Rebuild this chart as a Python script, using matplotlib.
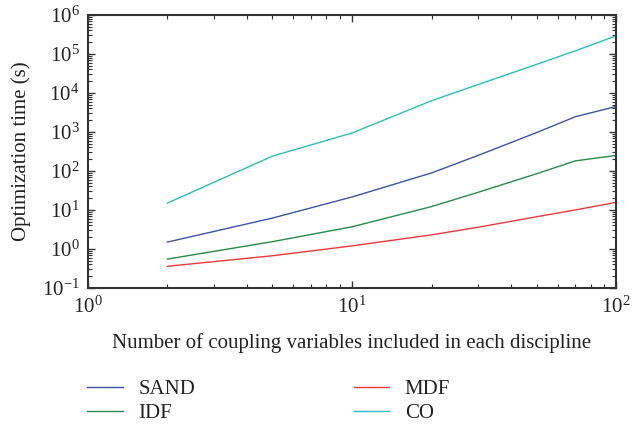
import matplotlib
matplotlib.use("Agg")
import matplotlib.pyplot as plt
from matplotlib.ticker import LogLocator, LogFormatterMathtext, NullFormatter

plt.rcParams['font.family'] = ['Liberation Serif', 'DejaVu Serif']
plt.rcParams['mathtext.fontset'] = 'stix'

n_coupling = [2, 5, 10, 20, 30, 50, 70, 100]
sand = [1.5, 6.2, 21.5, 89, 250, 965, 2450, 4500]
idf = [0.55, 1.54, 3.7, 12.2, 28.3, 85, 181, 250]
mdf = [0.36, 0.67, 1.2, 2.3, 3.6, 6.7, 10, 15.7]
co = [15, 240, 940, 6300, 16400, 54000, 120000, 290000]

series = [("SAND", sand, "#3a55a4"), ("IDF", idf, "#2a8a4a"),
          ("MDF", mdf, "#e83a3a"), ("CO", co, "#2cbcbc")]

fig = plt.figure(figsize=(6.32, 4.26), dpi=100)
ax = fig.add_axes([0.139, 0.324, 0.836, 0.641])

handles = {}
for name, vals, col in series:
    h, = ax.plot(n_coupling, vals, color=col, lw=1.0)
    handles[name] = h

ax.set_xscale('log')
ax.set_yscale('log')
ax.set_xlim(1, 100)
ax.set_ylim(0.1, 1e6)

ax.xaxis.set_major_locator(LogLocator(base=10, numticks=10))
ax.yaxis.set_major_locator(LogLocator(base=10, numticks=10))
ax.xaxis.set_minor_locator(LogLocator(base=10, subs=range(2, 10), numticks=20))
ax.yaxis.set_minor_locator(LogLocator(base=10, subs=range(2, 10), numticks=20))
ax.xaxis.set_major_formatter(LogFormatterMathtext())
ax.yaxis.set_major_formatter(LogFormatterMathtext())
ax.xaxis.set_minor_formatter(NullFormatter())
ax.yaxis.set_minor_formatter(NullFormatter())

ax.tick_params(which='both', direction='in', top=True, right=True, colors='#333333',
               labelcolor='#222222', labelsize=15)
ax.tick_params(which='major', length=5, width=1.0)
ax.tick_params(which='minor', length=3, width=0.8)
ax.tick_params(axis='x', which='major', pad=6)
ax.tick_params(axis='y', which='major', pad=6)
for s in ax.spines.values():
    s.set_color('#333333')
    s.set_linewidth(1.5)

ax.set_xlabel("Number of coupling variables included in each discipline", fontsize=15,
              color='#222222', labelpad=11)
ax.set_ylabel("Optimization time (s)", fontsize=15, color='#222222', labelpad=8)

order = ["SAND", "IDF", "MDF", "CO"]
leg = fig.legend([handles[k] for k in order], order, loc='upper left',
                 bbox_to_anchor=(0.125, 0.128), ncol=2, frameon=False,
                 fontsize=15, handlelength=1.7, handletextpad=0.75,
                 columnspacing=7.6, labelspacing=0.2, borderaxespad=0)
for t in leg.get_texts():
    t.set_color('#222222')

fig.savefig("out.png", dpi=100)
